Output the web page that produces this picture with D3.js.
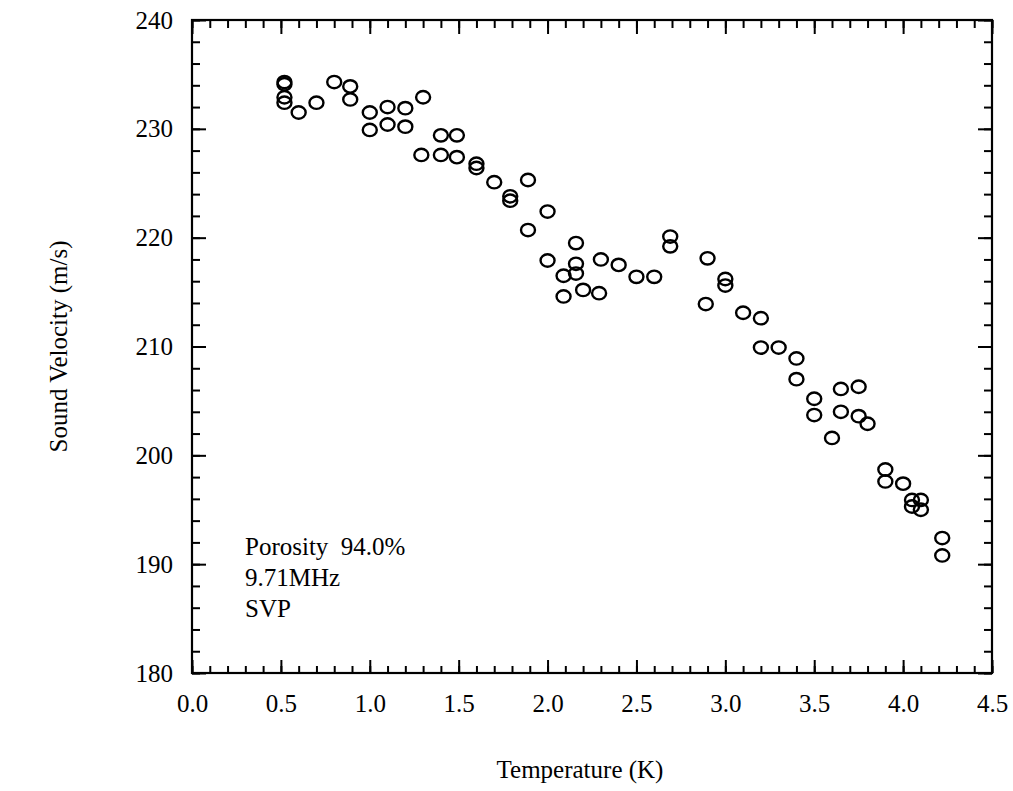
<!DOCTYPE html>
<html>
<head>
<meta charset="utf-8">
<script src="https://cdn.jsdelivr.net/npm/d3@7/dist/d3.min.js"></script>
<style>
  body { margin: 0; background: #fff; }
  text { font-family: "Liberation Serif", "Times New Roman", serif; fill: #000; }
</style>
</head>
<body>
<svg id="chart" width="1013" height="791"></svg>
<script>
// data
const temperature = [
  0.52, 0.52, 0.52, 0.52, 0.60, 0.70, 0.80, 0.89, 0.89, 1.00,
  1.00, 1.10, 1.10, 1.20, 1.20, 1.30, 1.40, 1.49, 1.29, 1.40,
  1.49, 1.60, 1.60, 1.70, 1.89, 1.79, 1.79, 2.00, 1.89, 2.16,
  2.00, 2.16, 2.16, 2.09, 2.30, 2.40, 2.50, 2.60, 2.20, 2.29,
  2.09, 2.69, 2.69, 2.90, 3.00, 3.00, 2.89, 3.10, 3.20, 3.20,
  3.30, 3.40, 3.40, 3.50, 3.50, 3.65, 3.75, 3.65, 3.75, 3.80,
  3.60, 3.90, 3.90, 4.00, 4.05, 4.05, 4.10, 4.10, 4.22, 4.22
];
const velocity = [
  234.3, 234.1, 232.9, 232.4, 231.5, 232.4, 234.3, 233.9, 232.7, 231.5,
  229.9, 232.0, 230.4, 231.9, 230.2, 232.9, 229.4, 229.4, 227.6, 227.6,
  227.4, 226.8, 226.4, 225.1, 225.3, 223.8, 223.4, 222.4, 220.7, 219.5,
  217.9, 217.6, 216.7, 216.5, 218.0, 217.5, 216.4, 216.4, 215.2, 214.9,
  214.6, 220.1, 219.2, 218.1, 216.2, 215.6, 213.9, 213.1, 212.6, 209.9,
  209.9, 208.9, 207.0, 205.2, 203.7, 206.1, 206.3, 204.0, 203.6, 202.9,
  201.6, 198.7, 197.6, 197.4, 195.9, 195.3, 195.9, 195.0, 192.4, 190.8
];

const xTicks = [0, 0.5, 1, 1.5, 2, 2.5, 3, 3.5, 4, 4.5];
const yTicks = [180, 190, 200, 210, 220, 230, 240];
const noteLines = ['Porosity  94.0%', '9.71MHz', 'SVP'];

const margin = { left: 192, top: 20, right: 21, bottom: 118 };
const width = 1013 - margin.left - margin.right;
const height = 791 - margin.top - margin.bottom;

const svg = d3.select('#chart');
const g = svg.append('g')
  .attr('transform', 'translate(' + margin.left + ',' + margin.top + ')');

const x = d3.scaleLinear().domain([0, 4.5]).range([0, width]);
const y = d3.scaleLinear().domain([180, 240]).range([height, 0]);

// minor ticks every 0.1 K and every 2 m/s
const xMinor = d3.range(0, 4.5001, 0.1).map(d => +d.toFixed(1));
const yMinor = d3.range(180, 240.001, 2);

function styleAxis(sel) {
  sel.select('.domain').remove();
  sel.selectAll('.tick line').attr('stroke', '#000').attr('stroke-width', 2);
  sel.selectAll('.tick text')
    .style('font-size', '25px')
    .attr('fill', '#000');
}

// bottom
g.append('g').attr('transform', 'translate(0,' + height + ')')
  .call(d3.axisBottom(x).tickValues(xMinor).tickSize(-7).tickFormat(''))
  .call(styleAxis);
g.append('g').attr('transform', 'translate(0,' + height + ')')
  .call(d3.axisBottom(x).tickValues(xTicks).tickSize(-13).tickPadding(21)
    .tickFormat(d3.format('.1f')))
  .call(styleAxis);

// top
g.append('g')
  .call(d3.axisTop(x).tickValues(xMinor).tickSize(-8).tickFormat(''))
  .call(styleAxis);
g.append('g')
  .call(d3.axisTop(x).tickValues(xTicks).tickSize(-14).tickFormat(''))
  .call(styleAxis);

// left
g.append('g')
  .call(d3.axisLeft(y).tickValues(yMinor).tickSize(-8).tickFormat(''))
  .call(styleAxis);
g.append('g')
  .call(d3.axisLeft(y).tickValues(yTicks).tickSize(-14).tickPadding(19)
    .tickFormat(d3.format('d')))
  .call(styleAxis);

// right
g.append('g').attr('transform', 'translate(' + width + ',0)')
  .call(d3.axisRight(y).tickValues(yMinor).tickSize(-8).tickFormat(''))
  .call(styleAxis);
g.append('g').attr('transform', 'translate(' + width + ',0)')
  .call(d3.axisRight(y).tickValues(yTicks).tickSize(-14).tickFormat(''))
  .call(styleAxis);

// frame
g.append('rect')
  .attr('width', width)
  .attr('height', height)
  .attr('fill', 'none')
  .attr('stroke', '#000')
  .attr('stroke-width', 2.2);

// points
g.selectAll('.pt')
  .data(temperature.map((t, i) => ({ t: t, v: velocity[i] })))
  .enter()
  .append('ellipse')
  .attr('class', 'pt')
  .attr('cx', d => x(d.t))
  .attr('cy', d => y(d.v))
  .attr('rx', 7)
  .attr('ry', 6.2)
  .attr('fill', 'none')
  .attr('stroke', '#000')
  .attr('stroke-width', 2.4);

// annotation
g.selectAll('.note')
  .data(noteLines)
  .enter()
  .append('text')
  .attr('class', 'note')
  .attr('x', 53)
  .attr('y', (d, i) => 535 + i * 31)
  .style('font-size', '25px')
  .style('white-space', 'pre')
  .text(d => d);

// axis titles
svg.append('text')
  .attr('x', 580)
  .attr('y', 778)
  .attr('text-anchor', 'middle')
  .style('font-size', '25px')
  .text('Temperature (K)');

svg.append('text')
  .attr('transform', 'translate(67,' + (margin.top + height / 2) + ') rotate(-90)')
  .attr('text-anchor', 'middle')
  .style('font-size', '25px')
  .text('Sound Velocity (m/s)');
</script>
</body>
</html>
